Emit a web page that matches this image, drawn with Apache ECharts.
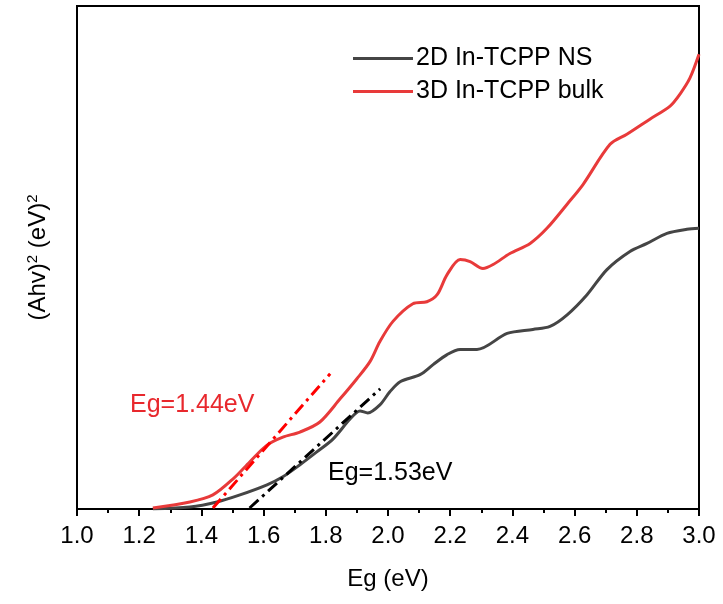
<!DOCTYPE html>
<html>
<head>
<meta charset="utf-8">
<script src="https://cdn.jsdelivr.net/npm/echarts@6/dist/echarts.min.js"></script>
<style>html,body{margin:0;padding:0;background:#fff;}#c{width:723px;height:604px;}</style>
</head>
<body>
<div id="c"></div>
<script>
var xTicks = ['1.0','1.2','1.4','1.6','1.8','2.0','2.2','2.4','2.6','2.8','3.0'];
var seriesNames = ['2D In-TCPP NS', '3D In-TCPP bulk'];
var nsX = [1.244,1.363,1.450,1.524,1.611,1.662,1.717,1.772,1.823,1.878,1.910,1.935,1.974,2.006,2.039,2.103,2.145,2.190,2.232,2.286,2.383,2.466,2.521,2.576,2.640,2.704,2.778,2.833,2.897,2.961,3.0];
var nsY = [0,0.4,1.4,2.8,4.8,6.4,8.8,11.4,13.9,17.9,19.5,19.1,20.7,23.3,25.3,26.7,28.7,30.7,31.7,31.7,34.9,35.7,36.3,38.6,42.6,47.6,51.2,52.8,54.8,55.6,55.8];
var bulkX = [1.244,1.363,1.437,1.502,1.556,1.611,1.662,1.717,1.781,1.846,1.900,1.942,1.974,2.016,2.080,2.125,2.158,2.190,2.232,2.264,2.305,2.338,2.392,2.457,2.511,2.576,2.627,2.714,2.768,2.842,2.907,2.939,2.971,3.0];
var bulkY = [0.2,1.4,2.8,6.0,9.4,12.7,14.3,15.3,17.3,21.9,25.9,29.3,33.3,37.3,40.8,41.2,42.6,46.6,49.6,49.2,47.8,48.6,50.8,52.8,55.8,60.6,64.5,72.5,74.5,77.5,80.1,82.5,85.7,90.4];
var fitBulkX = [1.437, 1.814];
var fitBulkY = [0.2, 26.9];
var fitNsX = [1.555, 1.975];
var fitNsY = [0.2, 23.9];
var labels = ['Eg=1.44eV', 'Eg=1.53eV'];

function zip(a, b) { return a.map(function (v, i) { return [v, b[i]]; }); }
var FONT = 'Liberation Sans, Arial, sans-serif';
var chart = echarts.init(document.getElementById('c'));
chart.setOption({
  animation: false,
  backgroundColor: '#fff',
  grid: { left: 77, top: 6, width: 622, height: 503, show: true, borderColor: '#000', borderWidth: 2, backgroundColor: 'transparent' },
  legend: {
    data: seriesNames, orient: 'vertical', left: 348, top: 41, itemGap: 8,
    icon: 'rect', itemWidth: 60, itemHeight: 3,
    textStyle: { fontFamily: FONT, fontSize: 25, color: '#000', padding: [0,0,0,-2] }
  },
  xAxis: {
    type: 'value', min: 1, max: 3, interval: 0.2,
    axisLine: { lineStyle: { color: '#000', width: 2 } },
    axisTick: { show: true, inside: false, length: 7, lineStyle: { color: '#000', width: 2 } },
    minorTick: { show: true, splitNumber: 2, length: 4, lineStyle: { color: '#000', width: 2 } },
    splitLine: { show: false },
    axisLabel: { fontFamily: FONT, fontSize: 24, color: '#000', margin: 15, formatter: function (v) { var s = v.toFixed(1); return xTicks.indexOf(s) >= 0 ? s : ''; } },
    name: 'Eg (eV)', nameLocation: 'middle', nameGap: 58,
    nameTextStyle: { fontFamily: FONT, fontSize: 24, color: '#000' }
  },
  yAxis: {
    type: 'value', min: 0, max: 100,
    axisLine: { show: true, lineStyle: { color: '#000', width: 2 } },
    axisTick: { show: false }, axisLabel: { show: false }, splitLine: { show: false },
    name: '{n|(Ahv)}{s|2}{n| (eV)}{s|2}', nameLocation: 'middle', nameGap: 25,
    nameTextStyle: {
      fontFamily: FONT, fontSize: 24, color: '#000',
      rich: {
        n: { fontFamily: FONT, fontSize: 24, color: '#000' },
        s: { fontFamily: FONT, fontSize: 15, color: '#000', verticalAlign: 'top', padding: [0,0,12,0] }
      }
    }
  },
  series: [
    { name: seriesNames[0], type: 'line', data: zip(nsX, nsY), showSymbol: false, smooth: 0.3, color: '#454545', lineStyle: { color: '#454545', width: 3 }, z: 3 },
    { name: seriesNames[1], type: 'line', data: zip(bulkX, bulkY), showSymbol: false, smooth: 0.3, color: '#e83a3a', lineStyle: { color: '#e83a3a', width: 3 }, z: 3 },
    { name: 'fit1', type: 'line', data: zip(fitBulkX, fitBulkY), showSymbol: false, lineStyle: { color: '#ff0000', width: 3, type: [12, 5, 3, 5] }, z: 4 },
    { name: 'fit2', type: 'line', data: zip(fitNsX, fitNsY), showSymbol: false, lineStyle: { color: '#000', width: 3, type: [12, 5, 3, 5] }, z: 4 }
  ],
  graphic: [
    { type: 'text', left: 130, top: 393, style: { text: labels[0], fontFamily: FONT, fontSize: 25, fill: '#e8282d' } },
    { type: 'text', left: 328, top: 461, style: { text: labels[1], fontFamily: FONT, fontSize: 25, fill: '#000' } }
  ]
});
</script>
</body>
</html>
